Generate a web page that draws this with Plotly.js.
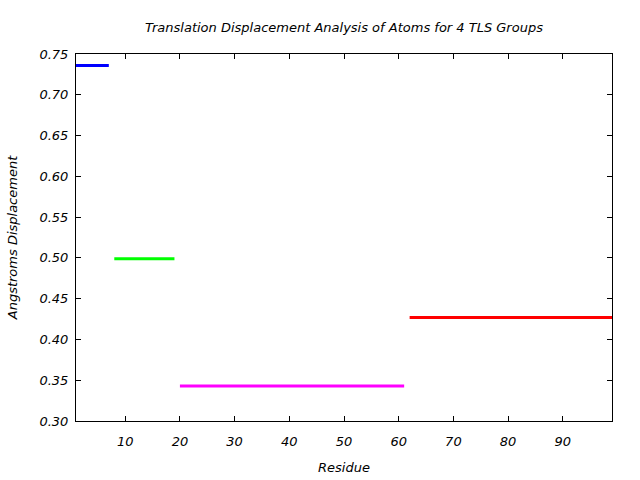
<!DOCTYPE html>
<html>
<head>
<meta charset="utf-8">
<script src="https://cdn.plot.ly/plotly-3.0.1.min.js"></script>
<style>html,body{margin:0;padding:0;background:#fff;}#chart{width:640px;height:480px;}</style>
</head>
<body>
<div id="chart"></div>
<script>
// TLS group data
var groupNames = ["TLS Group 1", "TLS Group 2", "TLS Group 3", "TLS Group 4"];
var residueStart = [1, 8, 20, 62];
var residueEnd = [7, 19, 61, 99];
var displacement = [0.736, 0.499, 0.343, 0.427];
var xTickVals = [10, 20, 30, 40, 50, 60, 70, 80, 90];
var yTickVals = [0.30, 0.35, 0.40, 0.45, 0.50, 0.55, 0.60, 0.65, 0.70, 0.75];

var lineColors = ["#0000ff", "#00ff00", "#ff00ff", "#ff0000"];

var traces = groupNames.map(function (name, i) {
  return {
    type: "scatter",
    mode: "lines",
    name: name,
    x: [residueStart[i], residueEnd[i]],
    y: [displacement[i], displacement[i]],
    line: { color: lineColors[i], width: 3 },
    hoverinfo: "x+y"
  };
});

var fontFam = "DejaVu Sans, sans-serif";
var fs = 13;
var layout = {
  width: 640,
  height: 480,
  margin: { l: 76, r: 28, t: 54, b: 59 },
  paper_bgcolor: "#ffffff",
  plot_bgcolor: "#ffffff",
  showlegend: false,
  font: { family: fontFam, size: fs, color: "#000000", style: "italic" },
  title: {
    text: "Translation Displacement Analysis of Atoms for 4 TLS Groups",
    font: { family: fontFam, size: fs, color: "#000000", style: "italic" },
    x: 0.5, xref: "paper", xanchor: "center",
    y: 1 - 27 / 480, yref: "container", yanchor: "middle"
  },
  xaxis: {
    range: [1, 99],
    tickvals: xTickVals,
    ticktext: xTickVals.map(String),
    ticks: "inside",
    ticklen: 5,
    tickwidth: 1,
    tickcolor: "#000",
    showline: true,
    linecolor: "#000",
    linewidth: 1,
    mirror: "ticks",
    showgrid: false,
    zeroline: false,
    ticklabelstandoff: 8,
    tickfont: { family: fontFam, size: fs, color: "#000", style: "italic" },
    title: { text: "Residue", standoff: 15, font: { family: fontFam, size: fs, color: "#000", style: "italic" } }
  },
  yaxis: {
    range: [0.30, 0.75],
    tickvals: yTickVals,
    ticktext: yTickVals.map(function (v) { return v.toFixed(2); }),
    ticks: "inside",
    ticklen: 5,
    tickwidth: 1,
    tickcolor: "#000",
    showline: true,
    linecolor: "#000",
    linewidth: 1,
    mirror: "ticks",
    showgrid: false,
    zeroline: false,
    ticklabelstandoff: 4,
    tickfont: { family: fontFam, size: fs, color: "#000", style: "italic" },
    title: { text: "Angstroms Displacement", standoff: 18, font: { family: fontFam, size: fs, color: "#000", style: "italic" } }
  }
};

Plotly.newPlot("chart", traces, layout, { displayModeBar: false, staticPlot: true });
</script>
</body>
</html>
